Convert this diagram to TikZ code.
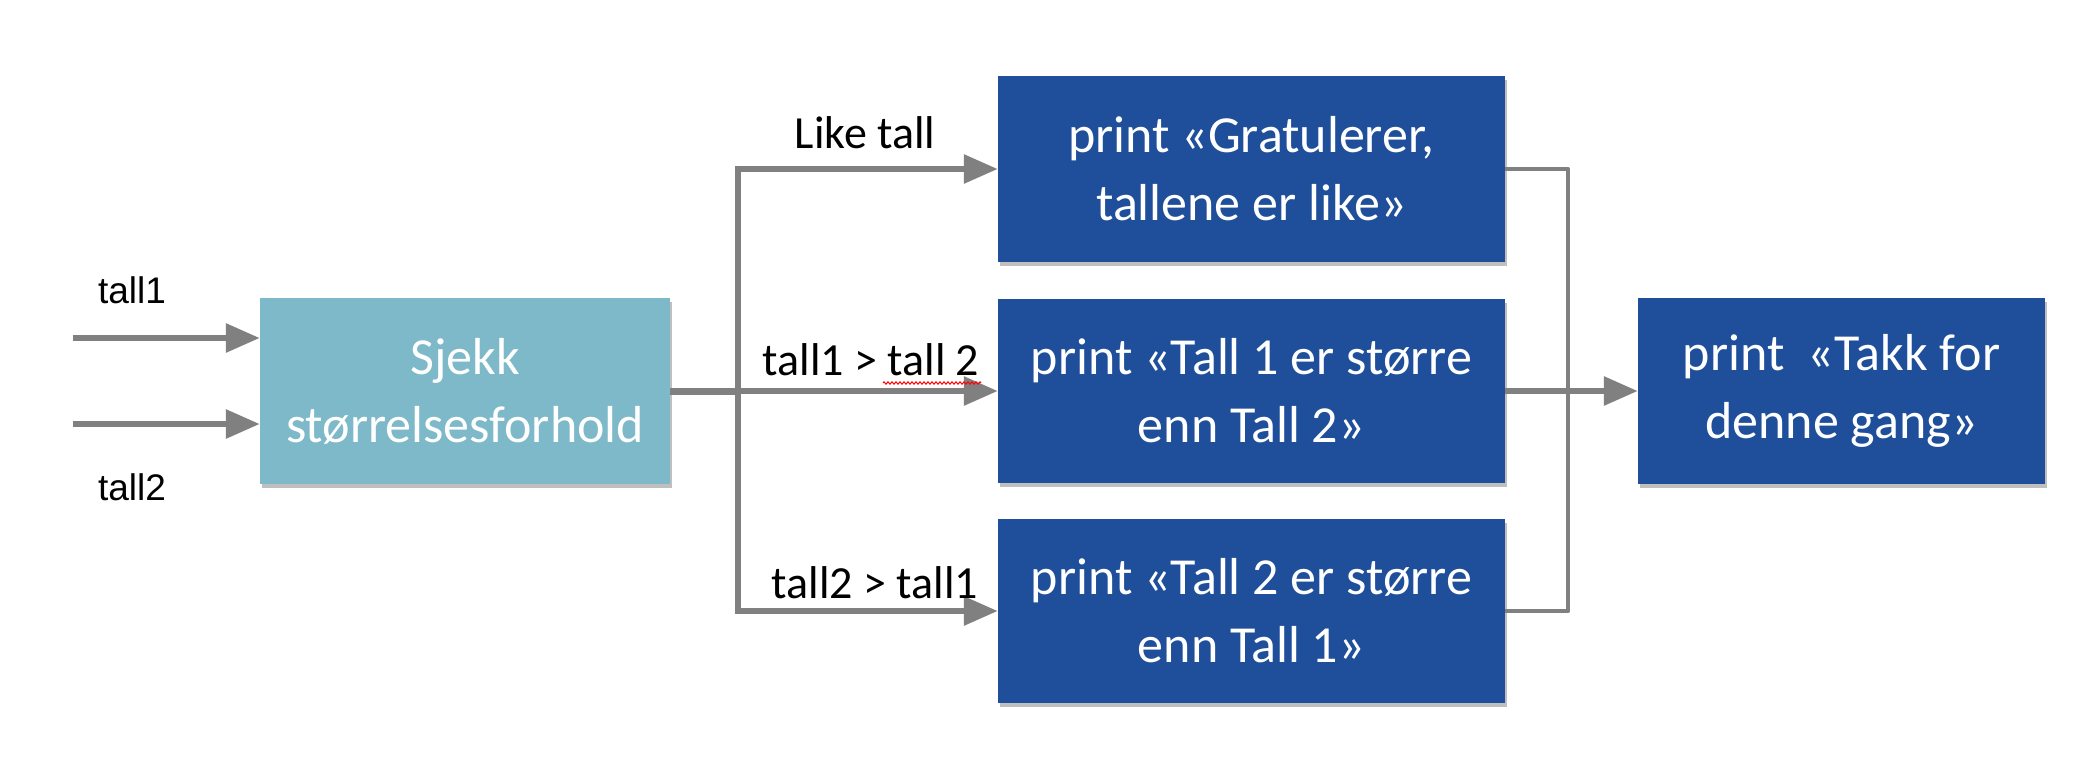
\documentclass[tikz,border=0pt]{standalone}
\usepackage{fontspec}
\setmainfont{Carlito}
\newfontfamily\arialf{Liberation Sans}
\usetikzlibrary{arrows.meta,shadows,decorations.pathmorphing}
\definecolor{dblue}{HTML}{1F4F9A}
\definecolor{lteal}{HTML}{7DB9C9}
\definecolor{lgray}{HTML}{808080}
\begin{document}
\begin{tikzpicture}[x=1pt,y=-1pt,
  boxbase/.style={rectangle, draw=none, align=center, text=white,
    font=\fontsize{52}{68}\selectfont, inner sep=0pt,
    drop shadow={shadow xshift=2pt, shadow yshift=-4pt, opacity=0.25, fill=black}},
  darkbox/.style={boxbase, fill=dblue},
  lightbox/.style={boxbase, fill=lteal},
  conn/.style={draw=lgray, line width=6pt},
  thinconn/.style={draw=lgray, line width=4.5pt},
  arr/.style={conn, -{Triangle[length=34pt,width=28pt]}},
  inlabel/.style={font=\arialf\fontsize{37}{40}\selectfont, text=black},
  brlabel/.style={font=\fontsize{46}{52}\selectfont, text=black}
]
\useasboundingbox (0,0) rectangle (2092,772);
\fill[white] (0,0) rectangle (2092,772);

\node[lightbox, minimum width=410pt, minimum height=186pt] (s) at (465,391) {Sjekk\\størrelsesforhold};
\node[darkbox, minimum width=507pt, minimum height=186pt] (top) at (1251.5,169) {print «Gratulerer,\\tallene er like»};
\node[darkbox, minimum width=507pt, minimum height=184pt] (mid) at (1251.5,391) {print «Tall 1 er større\\enn Tall 2»};
\node[darkbox, minimum width=507pt, minimum height=184pt] (bot) at (1251.5,611) {print «Tall 2 er større\\enn Tall 1»};
\node[darkbox, minimum width=407pt, minimum height=186pt] (fin) at (1841.5,391) {print~~«Takk for\\denne gang»};

\coordinate (in1) at (73,338);
\coordinate (in2) at (73,424);
\coordinate (sp) at (738,391);
\coordinate (spT) at (738,169);
\coordinate (spB) at (738,611);
\coordinate (cT) at (1568,169);
\coordinate (cB) at (1568,611);

\draw[arr] (in1) -- (in1 -| s.west);
\draw[arr] (in2) -- (in2 -| s.west);
\draw[conn, line width=7pt] (s.east) -- (sp);
\draw[conn, line cap=rect] (spT) -- (spB);
\draw[arr] (spT) -- (top.west);
\draw[arr] (sp) -- (mid.west);
\draw[arr] (spB) -- (bot.west);
\draw[thinconn, line join=round] (top.east) -- (cT) -- (cB) -- (bot.east);
\draw[arr] (mid.east) -- (fin.west);

\node[inlabel] (l1) at (132,290) {tall1};
\node[inlabel] (l2) at (132,487) {tall2};
\node[brlabel] (b1) at (865,133) {Like tall};
\node[brlabel] (b2) at (871,360) {tall1 > tall 2};
\node[brlabel] (b3) at (875,583) {tall2 > tall1};
\coordinate (w1) at (883,383);
\coordinate (w2) at (981,383);
\draw[red, line width=1pt, decorate, decoration={zigzag, segment length=4pt, amplitude=1.2pt}] (w1) -- (w2);
\end{tikzpicture}
\end{document}
